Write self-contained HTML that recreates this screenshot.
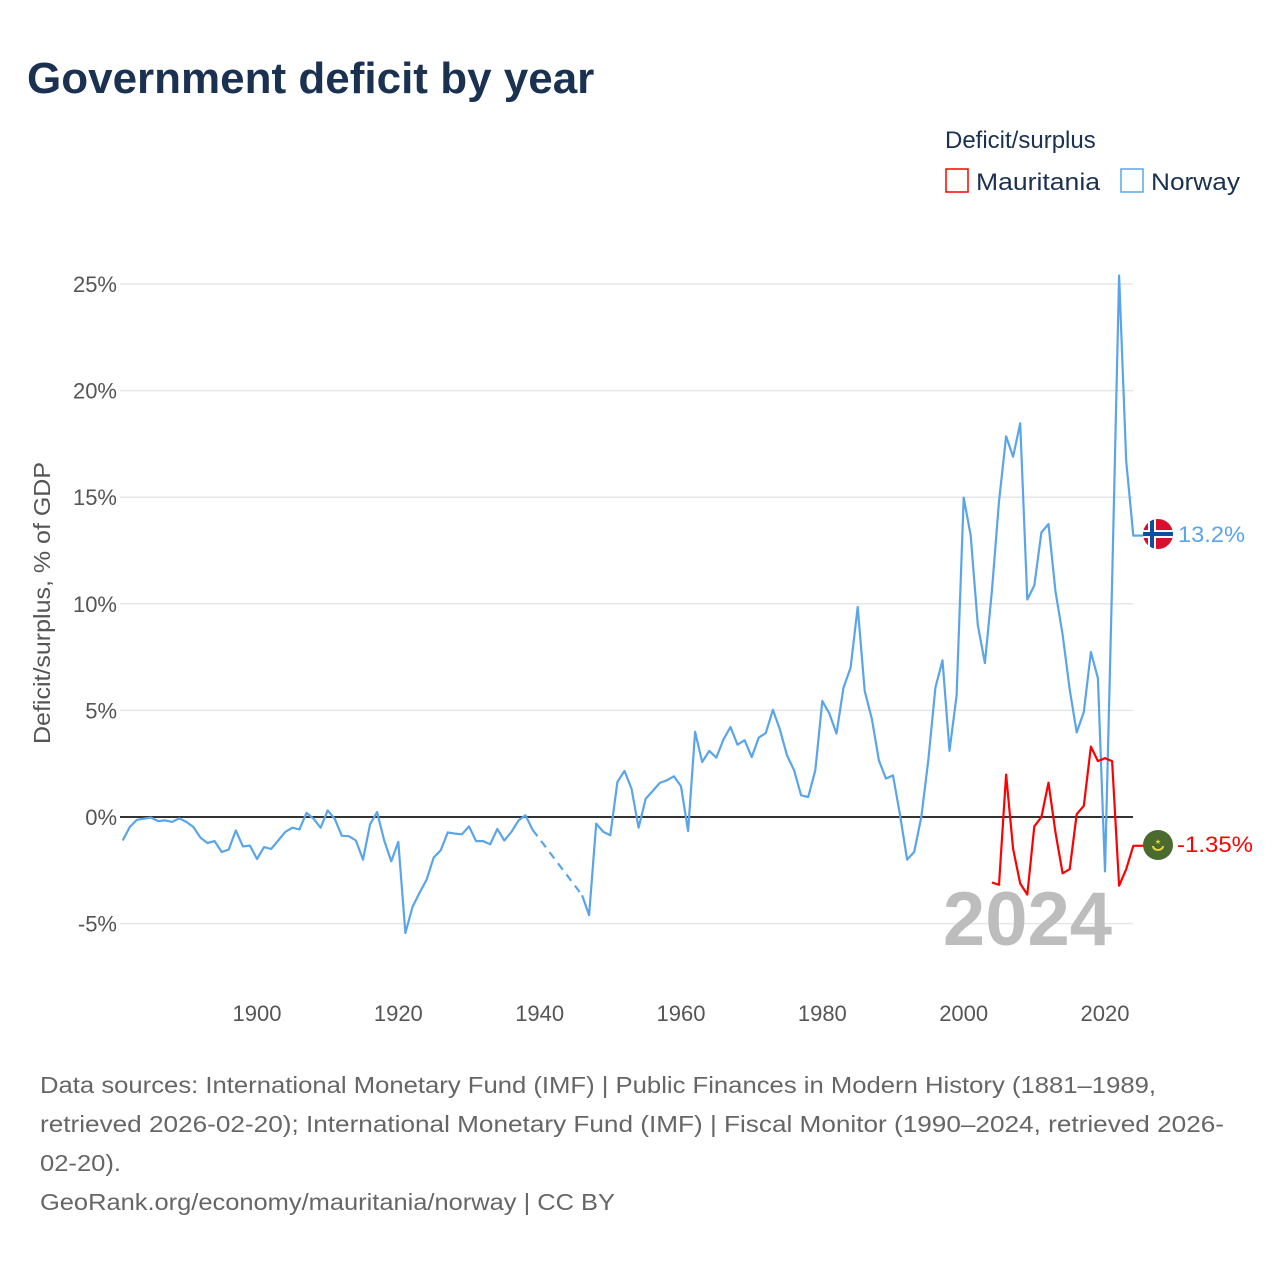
<!DOCTYPE html>
<html><head><meta charset="utf-8">
<style>
html,body{margin:0;padding:0;background:#fff;}
body{width:1280px;height:1280px;overflow:hidden;font-family:"Liberation Sans",sans-serif;}
</style></head>
<body>
<svg id="chart" width="1280" height="1280" xmlns="http://www.w3.org/2000/svg" font-family="'Liberation Sans', sans-serif">
  <text x="27" y="93" font-size="44" font-weight="bold" fill="#1b3151">Government deficit by year</text>
  <text x="945" y="148" font-size="24" fill="#1b3151">Deficit/surplus</text>
  <g>
    <rect x="946" y="169" width="22" height="23" fill="none" stroke="#ff0000" stroke-width="1.5"/>
    <text x="976" y="190" font-size="24" fill="#1b3151" textLength="124" lengthAdjust="spacingAndGlyphs">Mauritania</text>
  </g>
  <g>
    <rect x="1121" y="169" width="22" height="23" fill="none" stroke="#5aa5ea" stroke-width="1.5"/>
    <text x="1151" y="190" font-size="24" fill="#1b3151" textLength="89" lengthAdjust="spacingAndGlyphs">Norway</text>
  </g>
  <g id="grid"></g>
  <g id="yticks"></g>
  <g id="xticks"></g>
  <text transform="translate(50,603) rotate(-90)" text-anchor="middle" font-size="23" fill="#555" textLength="282" lengthAdjust="spacingAndGlyphs">Deficit/surplus, % of GDP</text>
  <text x="1112" y="945" text-anchor="end" font-size="76" font-weight="bold" fill="#bdbdbd">2024</text>
  <line x1="120" x2="1133" y1="817" y2="817" stroke="#333" stroke-width="2"/>
  <g id="series"></g>
  <g>
    <clipPath id="cn"><circle cx="1158" cy="534" r="15"/></clipPath>
    <g clip-path="url(#cn)">
      <rect x="1143" y="519" width="30" height="30" fill="#d8102e"/>
      <rect x="1148" y="519" width="8" height="30" fill="#fff"/>
      <rect x="1143" y="530" width="30" height="8" fill="#fff"/>
      <rect x="1150" y="519" width="4" height="30" fill="#0b4ea2"/>
      <rect x="1143" y="532" width="30" height="4" fill="#0b4ea2"/>
    </g>
    <text x="1178" y="542" font-size="22" fill="#5aa5ea" textLength="67" lengthAdjust="spacingAndGlyphs">13.2%</text>
  </g>
  <g>
    <circle cx="1158" cy="845" r="15" fill="#4a6b2f"/>
    <path d="M1153 846 a5 4 0 0 0 10 0" fill="none" stroke="#f1d23b" stroke-width="2"/>
    <text x="1158" y="844" text-anchor="middle" font-size="7" fill="#f1d23b">★</text>
    <text x="1177" y="852" font-size="22" fill="#ff0000" textLength="76" lengthAdjust="spacingAndGlyphs">-1.35%</text>
  </g>
  <g font-size="23" fill="#666">
    <text x="40" y="1093" textLength="1116" lengthAdjust="spacingAndGlyphs">Data sources: International Monetary Fund (IMF) | Public Finances in Modern History (1881–1989,</text>
    <text x="40" y="1132" textLength="1184" lengthAdjust="spacingAndGlyphs">retrieved 2026-02-20); International Monetary Fund (IMF) | Fiscal Monitor (1990–2024, retrieved 2026-</text>
    <text x="40" y="1171" textLength="81" lengthAdjust="spacingAndGlyphs">02-20).</text>
    <text x="40" y="1210" textLength="575" lengthAdjust="spacingAndGlyphs">GeoRank.org/economy/mauritania/norway | CC BY</text>
  </g>
</svg>
<script>
const yTickValues = [-5, 0, 5, 10, 15, 20, 25];
const xTickYears = [1900, 1920, 1940, 1960, 1980, 2000, 2020];
const norwayYearsA = [1881,1882,1883,1884,1885,1886,1887,1888,1889,1890,1891,1892,1893,1894,1895,1896,1897,1898,1899,1900,1901,1902,1903,1904,1905,1906,1907,1908,1909,1910,1911,1912,1913,1914,1915,1916,1917,1918,1919,1920,1921,1922,1923,1924,1925,1926,1927,1928,1929,1930,1931,1932,1933,1934,1935,1936,1937,1938,1939];
const norwayValuesA = [-1.1,-0.47,-0.13,-0.08,-0.03,-0.19,-0.16,-0.23,-0.06,-0.23,-0.47,-0.97,-1.22,-1.13,-1.64,-1.53,-0.63,-1.38,-1.34,-1.97,-1.41,-1.5,-1.1,-0.7,-0.5,-0.58,0.19,-0.08,-0.5,0.31,-0.08,-0.88,-0.9,-1.1,-2.0,-0.34,0.23,-1.1,-2.08,-1.17,-5.44,-4.22,-3.56,-2.94,-1.9,-1.56,-0.72,-0.78,-0.81,-0.44,-1.13,-1.13,-1.28,-0.56,-1.1,-0.7,-0.16,0.08,-0.6];
const norwayYearsB = [1946,1947,1948,1949,1950,1951,1952,1953,1954,1955,1956,1957,1958,1959,1960,1961,1962,1963,1964,1965,1966,1967,1968,1969,1970,1971,1972,1973,1974,1975,1976,1977,1978,1979,1980,1981,1982,1983,1984,1985,1986,1987,1988,1989,1990,1991,1992,1993,1994,1995,1996,1997,1998,1999,2000,2001,2002,2003,2004,2005,2006,2007,2008,2009,2010,2011,2012,2013,2014,2015,2016,2017,2018,2019,2020,2021,2022,2023,2024];
const norwayValuesB = [-3.67,-4.6,-0.31,-0.7,-0.86,1.64,2.16,1.33,-0.5,0.86,1.22,1.6,1.72,1.91,1.44,-0.66,3.99,2.58,3.1,2.78,3.63,4.22,3.39,3.6,2.81,3.72,3.94,5.03,4.1,2.89,2.19,1.02,0.94,2.19,5.44,4.85,3.91,6.07,7.0,9.85,5.91,4.61,2.66,1.8,1.95,0.08,-2.0,-1.64,0,2.66,6.07,7.35,3.1,5.7,14.98,13.2,9.0,7.22,10.6,14.8,17.85,16.9,18.47,10.2,10.86,13.35,13.74,10.57,8.56,5.98,3.97,4.92,7.74,6.51,-2.55,11.0,25.4,16.7,13.2];
const mauritaniaYears = [2004,2005,2006,2007,2008,2009,2010,2011,2012,2013,2014,2015,2016,2017,2018,2019,2020,2021,2022,2023,2024];
const mauritaniaValues = [-3.07,-3.18,1.99,-1.49,-3.12,-3.64,-0.44,0,1.61,-0.73,-2.64,-2.45,0.13,0.52,3.3,2.62,2.76,2.62,-3.22,-2.45,-1.35];

const NS = 'http://www.w3.org/2000/svg';
function xScale(yr){ return 257 + (yr - 1900) * (848 / 120); }
function yScale(v){ return 817 - v * 21.32; }
function mk(tag, attrs, parent){ const e = document.createElementNS(NS, tag); for (const k in attrs) e.setAttribute(k, attrs[k]); parent.appendChild(e); return e; }

const grid = document.getElementById('grid'), yt = document.getElementById('yticks'), xt = document.getElementById('xticks'), ser = document.getElementById('series');
yTickValues.forEach(v => {
  if (v !== 0) {
    const g = mk('line', {x1:120, x2:1133, y1:yScale(v), y2:yScale(v), stroke:'#e6e6e6', 'stroke-width':1.5}, grid);
    
    
  }
  const t = mk('text', {x:117, y:yScale(v)+8, 'text-anchor':'end', 'font-size':22, fill:'#555'}, yt);
  t.textContent = v + '%';
  
  
});
xTickYears.forEach(yr => {
  const t = mk('text', {x:xScale(yr), y:1021, 'text-anchor':'middle', 'font-size':22, fill:'#555'}, xt);
  t.textContent = yr;
  
  
});
function pts(ys, vs){ return ys.map((y,i) => xScale(y).toFixed(1) + ',' + yScale(vs[i]).toFixed(1)).join(' '); }
const la = mk('polyline', {points:pts(norwayYearsA, norwayValuesA), fill:'none', stroke:'#5aa5ea', 'stroke-width':2.2, 'stroke-linejoin':'round'}, ser);


const gapY = [norwayYearsA[norwayYearsA.length-1], norwayYearsB[0]];
const gapV = [norwayValuesA[norwayValuesA.length-1], norwayValuesB[0]];
const lg = mk('polyline', {points:pts(gapY, gapV), fill:'none', stroke:'#5aa5ea', 'stroke-width':2.2, 'stroke-dasharray':'8 6'}, ser);


const lb = mk('polyline', {points:pts(norwayYearsB, norwayValuesB) + ' ' + (xScale(2024)+10) + ',' + yScale(norwayValuesB[norwayValuesB.length-1]), fill:'none', stroke:'#5aa5ea', 'stroke-width':2.2, 'stroke-linejoin':'round'}, ser);


const lm = mk('polyline', {points:pts(mauritaniaYears, mauritaniaValues) + ' ' + (xScale(2024)+10) + ',' + yScale(mauritaniaValues[mauritaniaValues.length-1]), fill:'none', stroke:'#ff0000', 'stroke-width':2.2, 'stroke-linejoin':'round'}, ser);


</script>
</body></html>
